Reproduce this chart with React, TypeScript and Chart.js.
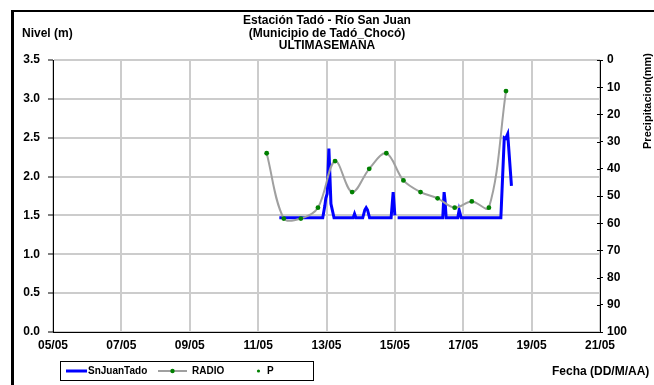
import React, { useEffect, useRef } from "react";
import { Chart, registerables } from "chart.js";

Chart.register(...registerables);

// ---------- data ----------
const titleLines = ["Estación Tadó - Río San Juan", "(Municipio de Tadó_Chocó)", "ULTIMASEMANA"];
const leftAxisTitle = "Nivel (m)";
const rightAxisTitle = "Precipitacion(mm)";
const xAxisTitle = "Fecha (DD/M/AA)";

// x values are days counted from 05/05 00:00
const xTickLabels = ["05/05", "07/05", "09/05", "11/05", "13/05", "15/05", "17/05", "19/05", "21/05"];
const xTickStep = 2;

const snJuanDays = [
  6.62, 7.89, 7.95, 7.98, 8.02, 8.07, 8.13, 8.22, 8.78, 8.82, 8.86, 9.06, 9.12, 9.16, 9.2, 9.26,
  9.89, 9.95, 10.0, 10.04, 10.08, 11.4, 11.44, 11.47, 11.5, 11.84, 11.88, 11.91, 11.94, 13.1, 13.2,
  13.24, 13.3, 13.41,
];
const snJuanLevels: (number | null)[] = [
  1.47, 1.47, 1.62, 1.72, 1.78, 2.36, 1.65, 1.47, 1.47, 1.52, 1.47, 1.47, 1.57, 1.6, 1.57, 1.47,
  1.47, 1.8, 1.5, null, 1.47, 1.47, 1.8, 1.68, 1.47, 1.47, 1.57, 1.52, 1.47, 1.47, 2.5, 2.49, 2.55,
  1.88,
];

const radioDays = [6.25, 6.75, 7.25, 7.75, 8.25, 8.75, 9.25, 9.75, 10.25, 10.75, 11.25, 11.75, 12.25, 12.75, 13.25];
const radioLevels = [2.3, 1.46, 1.46, 1.6, 2.2, 1.8, 2.1, 2.3, 1.95, 1.8, 1.72, 1.6, 1.68, 1.6, 3.1];

const pDays: number[] = [];
const pValues: number[] = [];

const levelTicks = [0, 0.5, 1, 1.5, 2, 2.5, 3, 3.5];
const precipTicks = [0, 10, 20, 30, 40, 50, 60, 70, 80, 90, 100];

// ---------- styles ----------
const FONT = "'Liberation Sans', Arial, sans-serif";
const BLUE = "#0000FF";
const GRAY = "#A0A0A0";
const GREEN = "#008000";
const GRID = "#CCCCCC";

const overlay = {
  id: "overlay",
  afterDraw(chart: any) {
    const ctx = chart.ctx as CanvasRenderingContext2D;
    ctx.save();
    // outer frame (left/top visible)
    ctx.fillStyle = "#000";
    ctx.fillRect(11, 10, 643, 2);
    ctx.fillRect(11, 10, 3, 375);

    // title
    ctx.fillStyle = "#000";
    ctx.textAlign = "center";
    ctx.textBaseline = "middle";
    ctx.font = `bold 12px ${FONT}`;
    titleLines.forEach((t, i) => ctx.fillText(t, 327, 21 + i * 12.5));

    // left axis title
    ctx.textAlign = "left";
    ctx.fillText(leftAxisTitle, 22, 34);

    // x axis title
    ctx.fillText(xAxisTitle, 552, 372);

    // right axis title (rotated)
    ctx.save();
    ctx.translate(648, 101);
    ctx.rotate(-Math.PI / 2);
    ctx.textAlign = "center";
    ctx.font = `bold 11px ${FONT}`;
    ctx.fillText(rightAxisTitle, 0, 0);
    ctx.restore();

    // inner tick marks of the right axis
    const y2 = chart.scales.y2;
    ctx.strokeStyle = "#000";
    ctx.lineWidth = 1;
    y2.ticks.forEach((t: any) => {
      const py = Math.round(y2.getPixelForValue(t.value)) + 0.5;
      ctx.beginPath();
      ctx.moveTo(y2.left - 3, py);
      ctx.lineTo(y2.left, py);
      ctx.stroke();
    });

    // legend
    const ds = chart.data.datasets;
    ctx.strokeStyle = "#000";
    ctx.lineWidth = 1;
    ctx.strokeRect(60.5, 361.5, 253, 19);
    const ly = 371;
    ctx.font = `bold 10px ${FONT}`;
    ctx.textAlign = "left";
    ctx.textBaseline = "middle";
    // SnJuanTado
    ctx.strokeStyle = ds[0].borderColor;
    ctx.lineWidth = 3;
    ctx.beginPath();
    ctx.moveTo(66, ly);
    ctx.lineTo(87, ly);
    ctx.stroke();
    ctx.fillStyle = "#000";
    ctx.fillText(ds[0].label, 88, ly);
    // RADIO
    ctx.strokeStyle = ds[1].borderColor;
    ctx.lineWidth = 2;
    ctx.beginPath();
    ctx.moveTo(158, ly);
    ctx.lineTo(187, ly);
    ctx.stroke();
    ctx.fillStyle = ds[1].pointBackgroundColor;
    ctx.beginPath();
    ctx.arc(172.5, ly, 2.2, 0, Math.PI * 2);
    ctx.fill();
    ctx.fillStyle = "#000";
    ctx.fillText(ds[1].label, 192, ly);
    // P
    ctx.fillStyle = ds[2].pointBackgroundColor;
    ctx.beginPath();
    ctx.arc(258.5, ly, 1.6, 0, Math.PI * 2);
    ctx.fill();
    ctx.fillStyle = "#000";
    ctx.fillText(ds[2].label, 267, ly);

    ctx.restore();
  },
};

export default function App() {
  const ref = useRef<HTMLCanvasElement | null>(null);

  useEffect(() => {
    if (!ref.current) return;
    const tickFont = { family: FONT, size: 12, weight: "bold" as const };
    const chart = new Chart(ref.current, {
      type: "line",
      data: {
        datasets: [
          {
            label: "SnJuanTado",
            data: snJuanDays.map((d, i) => ({ x: d, y: snJuanLevels[i] })),
            borderColor: BLUE,
            backgroundColor: BLUE,
            borderWidth: 3,
            pointRadius: 0,
            tension: 0,
            spanGaps: false,
            yAxisID: "y",
            order: 1,
          },
          {
            label: "RADIO",
            data: radioDays.map((d, i) => ({ x: d, y: radioLevels[i] })),
            borderColor: GRAY,
            backgroundColor: GREEN,
            borderWidth: 2,
            tension: 0.35,
            pointRadius: 2.4,
            pointBackgroundColor: GREEN,
            pointBorderWidth: 0,
            yAxisID: "y",
            order: 0,
          },
          {
            label: "P",
            data: pDays.map((d, i) => ({ x: d, y: pValues[i] })),
            showLine: false,
            borderColor: GREEN,
            pointBackgroundColor: GREEN,
            pointRadius: 1.6,
            pointBorderWidth: 0,
            yAxisID: "y2",
            order: 2,
          },
        ] as any,
      },
      options: {
        animation: false,
        responsive: false,
        maintainAspectRatio: false,
        devicePixelRatio: 1,
        layout: { padding: { top: 60, left: 0, right: 0, bottom: 0 } },
        plugins: {
          legend: { display: false },
          title: { display: false },
          tooltip: { enabled: false },
        },
        scales: {
          x: {
            type: "linear",
            min: 0,
            max: (xTickLabels.length - 1) * xTickStep,
            afterBuildTicks: (s: any) => {
              s.ticks = xTickLabels.map((_, i) => ({ value: i * xTickStep }));
            },
            afterFit: (s: any) => {
              s.height = 53;
            },
            ticks: {
              autoSkip: false,
              maxRotation: 0,
              color: "#000",
              font: tickFont,
              padding: 6,
              callback: (v: any) => xTickLabels[Math.round(Number(v) / xTickStep)] ?? "",
            },
            grid: { color: GRID, lineWidth: 2, drawTicks: false },
            border: { display: true, color: "#000", width: 1 },
          },
          y: {
            type: "linear",
            position: "left",
            min: levelTicks[0],
            max: levelTicks[levelTicks.length - 1],
            afterBuildTicks: (s: any) => {
              s.ticks = levelTicks.map((v) => ({ value: v }));
            },
            afterFit: (s: any) => {
              s.width = 53;
            },
            ticks: {
              color: "#000",
              font: tickFont,
              padding: 8,
              callback: (v: any) => Number(v).toFixed(1),
            },
            grid: { color: GRID, lineWidth: 2, tickColor: "#000", tickLength: 5, tickWidth: 1 },
            border: { display: true, color: "#000", width: 1 },
          },
          y2: {
            type: "linear",
            position: "right",
            reverse: true,
            min: precipTicks[0],
            max: precipTicks[precipTicks.length - 1],
            afterBuildTicks: (s: any) => {
              s.ticks = precipTicks.map((v) => ({ value: v }));
            },
            afterFit: (s: any) => {
              s.width = 54;
            },
            ticks: { color: "#000", font: tickFont, padding: 4, callback: (v: any) => String(v) },
            grid: { drawOnChartArea: false, tickColor: "#000", tickLength: 3, tickWidth: 1 },
            border: { display: true, color: "#000", width: 1 },
          },
        },
      },
      plugins: [overlay],
    });
    return () => chart.destroy();
  }, []);

  return (
    <div style={{ position: "absolute", left: 0, top: 0, width: 654, height: 385, background: "#fff" }}>
      <canvas ref={ref} width={654} height={385} style={{ display: "block", width: 654, height: 385 }} />
    </div>
  );
}
